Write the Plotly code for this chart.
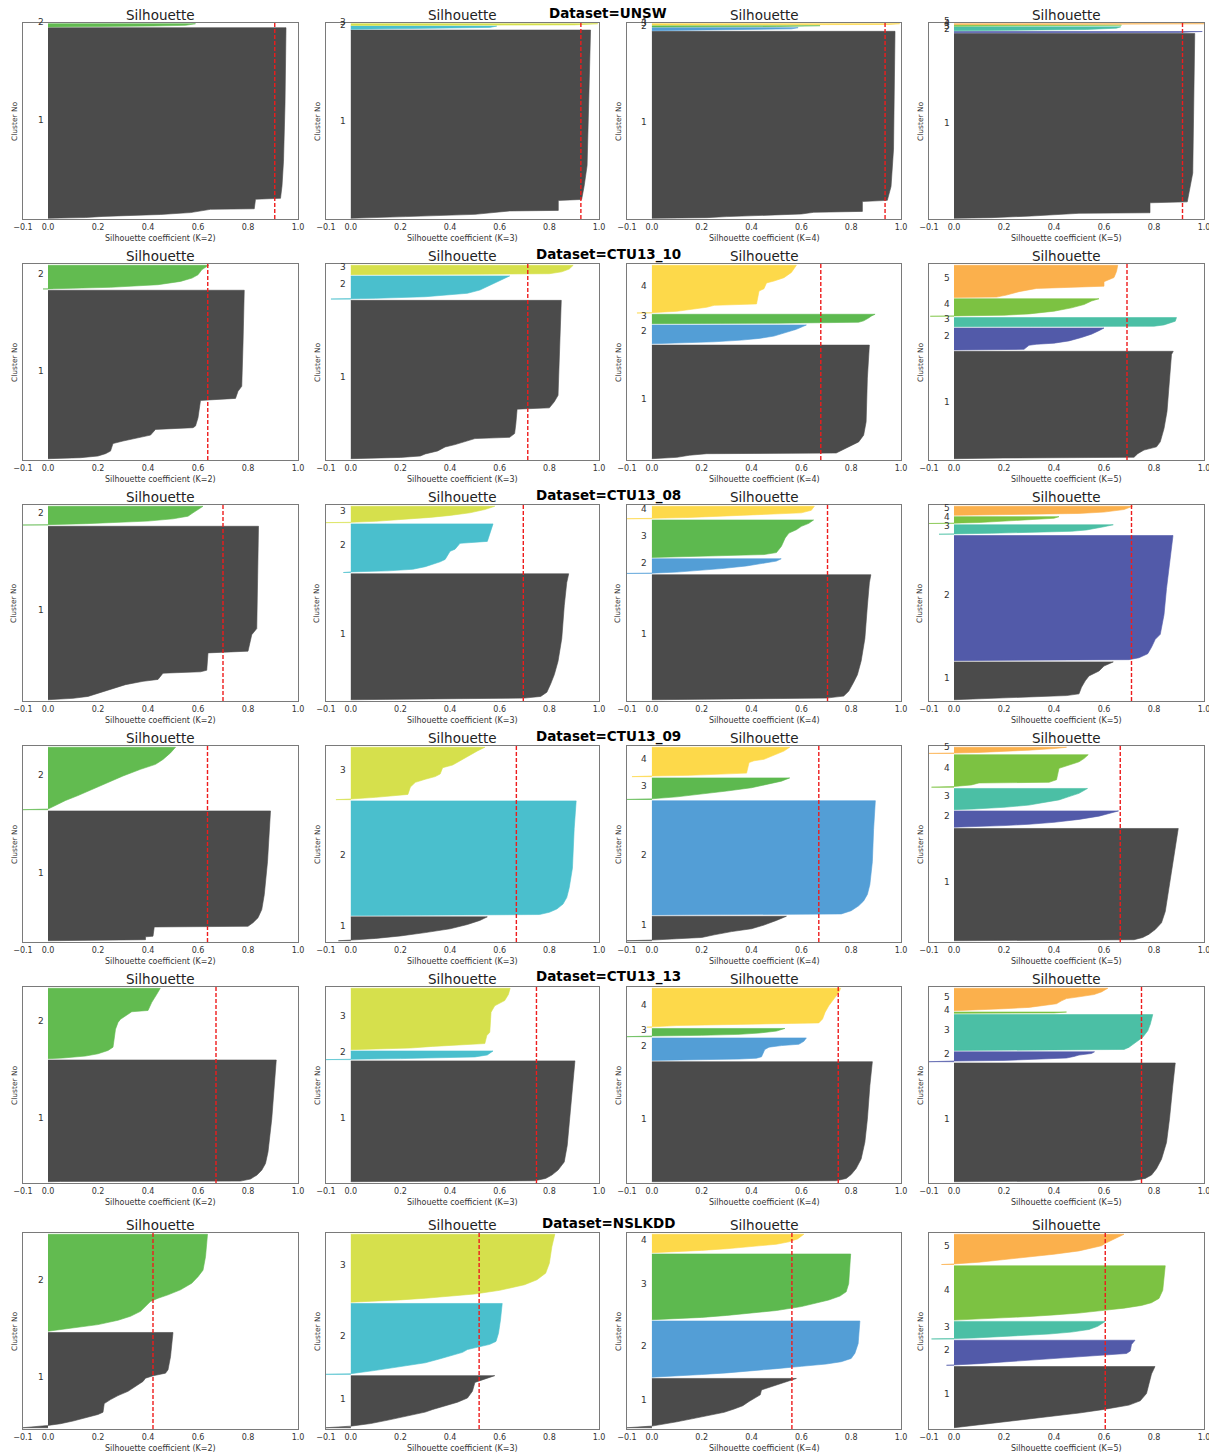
import plotly.graph_objects as go

W, H = 1209, 1453

DATASETS = ["UNSW", "CTU13_10", "CTU13_08", "CTU13_09", "CTU13_13", "NSLKDD"]
K_VALUES = [2, 3, 4, 5]
X_TICKS = [-0.1, 0.0, 0.2, 0.4, 0.6, 0.8, 1.0]
X_TICK_TEXT = ["−0.1", "0.0", "0.2", "0.4", "0.6", "0.8", "1.0"]

CLUSTER_COLORS = {
    2: ["#4b4b4b", "#62bb50"],
    3: ["#4b4b4b", "#4abfcd", "#d6e04c"],
    4: ["#4b4b4b", "#539ed6", "#5db94f", "#fdd94a"],
    5: ["#4b4b4b", "#525aa9", "#4bbfa5", "#7cc242", "#fbb04c"],
}

# gap (in sample units) between clusters, per dataset
GAPS = [0.7, 1.3, 1.3, 1.3, 1.3, 1.3]

# ---------------- average silhouette scores (K=2..5) ----------------
UNSW_AVG = [0.907, 0.927, 0.936, 0.914]
CTU13_10_AVG = [0.639, 0.713, 0.678, 0.692]
CTU13_08_AVG = [0.700, 0.695, 0.705, 0.710]
CTU13_09_AVG = [0.638, 0.667, 0.670, 0.665]
CTU13_13_AVG = [0.672, 0.748, 0.748, 0.750]
NSLKDD_AVG = [0.420, 0.517, 0.562, 0.605]

# ---------------- cluster sizes (clusters 1..K) ----------------
UNSW_SIZES = [[191.3, 3.3], [189.3, 3.3, 1.7], [188.3, 3.0, 1.3, 1.3], [186.7, 1.3, 4.0, 1.0, 0.8]]
CTU13_10_SIZES = [[168.7, 23.7], [157.7, 23.0, 9.3], [112.7, 18.7, 9.3, 47.3], [106.0, 21.7, 9.0, 17.3, 31.7]]
CTU13_08_SIZES = [[176.0, 19.0], [128.7, 49.7, 16.7], [127.7, 15.0, 38.3, 12.7], [38.7, 128.0, 9.7, 7.0, 9.3]]
CTU13_09_SIZES = [[131.7, 63.3], [24.3, 116.7, 53.3], [25.0, 116.7, 22.0, 30.0], [115.0, 16.7, 21.7, 33.3, 6.3]]
CTU13_13_SIZES = [[122.7, 71.0], [122.0, 8.7, 62.0], [121.3, 22.7, 8.3, 39.3], [120.0, 10.0, 36.3, 1.3, 22.7]]
NSLKDD_SIZES = [[96.0, 97.7], [52.7, 71.7, 68.7], [50.0, 57.0, 66.7, 18.7], [62.7, 25.7, 18.0, 55.7, 31.0]]

# ---------------- sorted silhouette profiles: (rank fraction, value) ----------------
UNSW_PROFILES = [
    [
        [(0, 0), (0.004, 0.15), (0.01, 0.22), (0.02, 0.45), (0.03, 0.57), (0.04, 0.62), (0.047, 0.65), (0.05, 0.825), (0.1, 0.83), (0.105, 0.93), (0.17, 0.936), (0.3, 0.942), (0.6, 0.948), (1, 0.952)],
        [(0, 0), (0.1, 0.3), (0.3, 0.42), (0.5, 0.55), (0.8, 0.58), (1, 0.59)],
    ],
    [
        [(0, 0), (0.0035, 0.15), (0.009, 0.22), (0.021, 0.5), (0.03, 0.58), (0.039, 0.64), (0.042, 0.836), (0.095, 0.836), (0.1, 0.93), (0.17, 0.94), (0.28, 0.952), (0.63, 0.96), (1, 0.966)],
        [(0, 0), (0.1, 0.1), (0.3, 0.42), (0.6, 0.56), (1, 0.588)],
        [(0, 0.2), (0.3, 0.9), (1, 0.995)],
    ],
    [
        [(0, 0), (0.0035, 0.22), (0.009, 0.3), (0.016, 0.5), (0.023, 0.6), (0.032, 0.65), (0.037, 0.845), (0.09, 0.845), (0.096, 0.945), (0.17, 0.96), (0.37, 0.97), (1, 0.976)],
        [(0, 0), (0.1, 0.1), (0.3, 0.42), (0.6, 0.56), (1, 0.587)],
        [(0, 0), (0.3, 0.5), (1, 0.675)],
        [(0, 0.3), (0.4, 0.95), (1, 0.995)],
    ],
    [
        [(0, 0), (0.0036, 0.15), (0.0125, 0.31), (0.021, 0.42), (0.027, 0.5), (0.03, 0.784), (0.084, 0.784), (0.089, 0.933), (0.14, 0.94), (0.245, 0.955), (1, 0.963)],
        [(0, 0), (0.3, 0.9), (1, 0.993)],
        [(0, 0), (0.08, 0.1), (0.17, 0.35), (0.33, 0.53), (0.67, 0.65), (1, 0.667)],
        [(0, 0), (0.4, 0.5), (1, 0.67)],
        [(0, 0.3), (1, 1.0)],
    ],
]

CTU13_10_PROFILES = [
    [
        [(0, 0), (0.006, 0.13), (0.016, 0.2), (0.03, 0.23), (0.045, 0.25), (0.09, 0.26), (0.105, 0.3), (0.128, 0.38), (0.14, 0.41), (0.174, 0.43), (0.184, 0.58), (0.194, 0.59), (0.243, 0.6), (0.346, 0.61), (0.358, 0.75), (0.4, 0.76), (0.43, 0.775), (0.68, 0.78), (1, 0.785)],
        [(0, -0.02), (0.03, 0.1), (0.07, 0.25), (0.18, 0.44), (0.32, 0.53), (0.46, 0.576), (0.6, 0.6), (0.82, 0.616), (1, 0.643)],
    ],
    [
        [(0, 0), (0.004, 0.1), (0.008, 0.2), (0.017, 0.28), (0.03, 0.3), (0.049, 0.35), (0.074, 0.38), (0.089, 0.42), (0.11, 0.47), (0.127, 0.5), (0.135, 0.64), (0.159, 0.66), (0.222, 0.665), (0.313, 0.67), (0.321, 0.8), (0.36, 0.82), (0.4, 0.835), (0.72, 0.842), (1, 0.848)],
        [(0, -0.08), (0.03, 0.1), (0.1, 0.3), (0.17, 0.4), (0.25, 0.47), (0.39, 0.52), (0.54, 0.55), (0.68, 0.58), (0.83, 0.61), (1, 0.64)],
        [(0, 0.1), (0.05, 0.5), (0.1, 0.8), (0.3, 0.85), (0.6, 0.88), (1, 0.896)],
    ],
    [
        [(0, 0), (0.012, 0.1), (0.03, 0.15), (0.044, 0.22), (0.05, 0.74), (0.083, 0.77), (0.118, 0.8), (0.148, 0.83), (0.207, 0.85), (0.325, 0.86), (0.71, 0.865), (1, 0.873)],
        [(0, 0), (0.036, 0.12), (0.107, 0.25), (0.196, 0.36), (0.286, 0.43), (0.41, 0.49), (0.59, 0.54), (0.77, 0.58), (1, 0.62)],
        [(0, 0.05), (0.05, 0.5), (0.15, 0.83), (0.3, 0.85), (0.6, 0.87), (0.8, 0.88), (1, 0.896)],
        [(0, -0.06), (0.007, 0), (0.035, 0.1), (0.077, 0.17), (0.12, 0.22), (0.16, 0.25), (0.19, 0.42), (0.46, 0.43), (0.51, 0.45), (0.63, 0.46), (0.67, 0.49), (0.74, 0.53), (0.85, 0.56), (1, 0.58)],
    ],
    [
        [(0, 0), (0.006, 0.2), (0.013, 0.72), (0.047, 0.735), (0.08, 0.76), (0.11, 0.81), (0.157, 0.825), (0.28, 0.84), (0.44, 0.852), (0.755, 0.862), (0.97, 0.87), (1, 0.877)],
        [(0, 0), (0.03, 0.28), (0.215, 0.3), (0.26, 0.33), (0.31, 0.4), (0.415, 0.46), (0.57, 0.51), (0.72, 0.55), (0.88, 0.58), (1, 0.6)],
        [(0, 0.05), (0.05, 0.8), (0.2, 0.84), (0.45, 0.87), (0.6, 0.885), (1, 0.89)],
        [(0, -0.095), (0.02, 0), (0.06, 0.2), (0.135, 0.3), (0.29, 0.4), (0.48, 0.47), (0.67, 0.52), (0.87, 0.55), (1, 0.58)],
        [(0, 0), (0.01, 0.17), (0.074, 0.21), (0.18, 0.26), (0.28, 0.33), (0.31, 0.43), (0.35, 0.6), (0.49, 0.6), (0.56, 0.62), (0.62, 0.64), (0.81, 0.65), (1, 0.655)],
    ],
]

CTU13_08_PROFILES = [
    [
        [(0, 0), (0.008, 0.1), (0.019, 0.16), (0.038, 0.2), (0.0625, 0.25), (0.087, 0.31), (0.106, 0.38), (0.117, 0.44), (0.153, 0.46), (0.161, 0.61), (0.17, 0.635), (0.27, 0.64), (0.28, 0.8), (0.375, 0.815), (0.41, 0.835), (1, 0.842)],
        [(0, -0.1), (0.02, 0), (0.07, 0.15), (0.14, 0.3), (0.21, 0.4), (0.33, 0.5), (0.47, 0.56), (0.65, 0.58), (0.82, 0.6), (1, 0.62)],
    ],
    [
        [(0, 0), (0.005, 0.25), (0.013, 0.7), (0.026, 0.765), (0.06, 0.79), (0.124, 0.805), (0.2, 0.82), (0.306, 0.835), (0.487, 0.85), (0.746, 0.86), (0.93, 0.87), (1, 0.878)],
        [(0, -0.03), (0.013, 0), (0.034, 0.15), (0.067, 0.25), (0.12, 0.3), (0.168, 0.33), (0.22, 0.36), (0.27, 0.38), (0.436, 0.4), (0.48, 0.42), (0.6, 0.44), (0.64, 0.55), (0.8, 0.56), (1, 0.573)],
        [(0, -0.1), (0.02, 0), (0.08, 0.1), (0.2, 0.22), (0.32, 0.32), (0.44, 0.4), (0.6, 0.48), (0.8, 0.54), (1, 0.58)],
    ],
    [
        [(0, 0), (0.005, 0.25), (0.013, 0.7), (0.029, 0.77), (0.068, 0.79), (0.14, 0.81), (0.2, 0.825), (0.31, 0.84), (0.49, 0.855), (0.75, 0.865), (0.935, 0.873), (1, 0.879)],
        [(0, -0.1), (0.02, 0), (0.09, 0.1), (0.2, 0.2), (0.33, 0.28), (0.51, 0.38), (0.69, 0.45), (0.84, 0.5), (1, 0.519)],
        [(0, 0), (0.017, 0.1), (0.043, 0.3), (0.078, 0.45), (0.13, 0.5), (0.3, 0.52), (0.52, 0.535), (0.65, 0.55), (0.74, 0.58), (0.83, 0.6), (0.91, 0.63), (1, 0.649)],
        [(0, -0.1), (0.03, 0), (0.1, 0.15), (0.21, 0.3), (0.29, 0.42), (0.37, 0.52), (0.47, 0.6), (0.68, 0.64), (1, 0.652)],
    ],
    [
        [(0, 0), (0.026, 0.1), (0.06, 0.22), (0.086, 0.32), (0.11, 0.45), (0.155, 0.5), (0.33, 0.51), (0.5, 0.525), (0.63, 0.54), (0.76, 0.58), (0.89, 0.6), (1, 0.637)],
        [(0, 0), (0.003, 0.3), (0.008, 0.7), (0.023, 0.74), (0.055, 0.775), (0.107, 0.79), (0.17, 0.805), (0.21, 0.825), (0.367, 0.84), (0.576, 0.85), (0.784, 0.862), (0.94, 0.87), (1, 0.876)],
        [(0, -0.06), (0.035, 0), (0.1, 0.15), (0.2, 0.35), (0.31, 0.47), (0.45, 0.53), (0.62, 0.57), (0.79, 0.6), (1, 0.637)],
        [(0, -0.1), (0.05, 0), (0.14, 0.1), (0.33, 0.2), (0.52, 0.3), (0.76, 0.4), (1, 0.42)],
        [(0, 0), (0.04, 0.1), (0.11, 0.3), (0.21, 0.5), (0.36, 0.6), (0.64, 0.68), (1, 0.714)],
    ],
]

CTU13_09_PROFILES = [
    [
        [(0, 0), (0.003, 0.15), (0.008, 0.39), (0.03, 0.39), (0.035, 0.42), (0.106, 0.425), (0.111, 0.8), (0.139, 0.82), (0.177, 0.84), (0.24, 0.855), (0.354, 0.865), (0.608, 0.878), (0.86, 0.885), (1, 0.89)],
        [(0, -0.1), (0.01, 0), (0.058, 0.025), (0.147, 0.07), (0.226, 0.12), (0.33, 0.18), (0.437, 0.24), (0.54, 0.3), (0.647, 0.37), (0.726, 0.43), (0.805, 0.46), (0.91, 0.49), (1, 0.51)],
    ],
    [
        [(0, -0.05), (0.027, 0), (0.096, 0.1), (0.2, 0.2), (0.34, 0.3), (0.5, 0.4), (0.68, 0.47), (0.85, 0.52), (1, 0.55)],
        [(0, 0), (0.003, 0.5), (0.009, 0.76), (0.029, 0.8), (0.057, 0.83), (0.1, 0.855), (0.157, 0.87), (0.243, 0.88), (0.414, 0.893), (0.757, 0.9), (1, 0.908)],
        [(0, -0.06), (0.0125, 0), (0.044, 0.1), (0.08, 0.17), (0.1, 0.23), (0.24, 0.24), (0.33, 0.26), (0.39, 0.3), (0.44, 0.34), (0.49, 0.36), (0.61, 0.37), (0.66, 0.41), (0.74, 0.44), (0.83, 0.47), (0.93, 0.51), (1, 0.54)],
    ],
    [
        [(0, -0.1), (0.027, 0), (0.08, 0.1), (0.133, 0.2), (0.24, 0.25), (0.373, 0.32), (0.49, 0.4), (0.64, 0.45), (0.83, 0.5), (1, 0.54)],
        [(0, 0), (0.003, 0.5), (0.009, 0.76), (0.037, 0.8), (0.08, 0.83), (0.123, 0.85), (0.18, 0.865), (0.266, 0.875), (0.466, 0.885), (0.75, 0.89), (1, 0.897)],
        [(0, -0.1), (0.03, 0), (0.12, 0.1), (0.24, 0.2), (0.39, 0.3), (0.545, 0.4), (0.7, 0.46), (0.85, 0.52), (1, 0.553)],
        [(0, -0.08), (0.022, 0), (0.044, 0.15), (0.089, 0.3), (0.12, 0.38), (0.48, 0.39), (0.54, 0.41), (0.59, 0.45), (0.7, 0.48), (0.87, 0.53), (1, 0.553)],
    ],
    [
        [(0, 0), (0.003, 0.5), (0.009, 0.72), (0.029, 0.755), (0.058, 0.78), (0.1, 0.805), (0.16, 0.83), (0.26, 0.845), (0.55, 0.865), (0.84, 0.885), (1, 0.897)],
        [(0, 0), (0.04, 0.1), (0.1, 0.2), (0.18, 0.3), (0.3, 0.4), (0.48, 0.5), (0.68, 0.58), (0.84, 0.62), (1, 0.658)],
        [(0, 0), (0.03, 0.08), (0.11, 0.2), (0.215, 0.3), (0.34, 0.36), (0.46, 0.42), (0.615, 0.46), (0.77, 0.5), (1, 0.534)],
        [(0, -0.09), (0.02, 0), (0.07, 0.07), (0.13, 0.1), (0.15, 0.38), (0.23, 0.41), (0.58, 0.42), (0.65, 0.45), (0.78, 0.5), (0.88, 0.52), (1, 0.537)],
        [(0, -0.1), (0.05, 0), (0.16, 0.1), (0.32, 0.2), (0.53, 0.3), (0.79, 0.4), (1, 0.45)],
    ],
]

CTU13_13_PROFILES = [
    [
        [(0, 0), (0.002, 0.05), (0.005, 0.77), (0.022, 0.81), (0.054, 0.835), (0.095, 0.855), (0.15, 0.87), (0.245, 0.88), (0.516, 0.895), (0.79, 0.905), (1, 0.913)],
        [(0, 0), (0.01, 0.06), (0.038, 0.15), (0.07, 0.2), (0.117, 0.24), (0.164, 0.26), (0.42, 0.27), (0.516, 0.28), (0.56, 0.29), (0.61, 0.31), (0.667, 0.335), (0.685, 0.4), (0.8, 0.415), (0.915, 0.435), (1, 0.449)],
    ],
    [
        [(0, 0), (0.003, 0.4), (0.008, 0.74), (0.027, 0.785), (0.055, 0.81), (0.096, 0.835), (0.164, 0.86), (0.3, 0.872), (0.52, 0.882), (0.79, 0.893), (1, 0.903)],
        [(0, -0.1), (0.04, 0), (0.115, 0.2), (0.19, 0.4), (0.31, 0.5), (0.54, 0.55), (0.77, 0.56), (1, 0.573)],
        [(0, 0), (0.011, 0.14), (0.027, 0.24), (0.054, 0.33), (0.08, 0.45), (0.1, 0.54), (0.23, 0.548), (0.285, 0.56), (0.61, 0.565), (0.715, 0.58), (0.8, 0.62), (0.9, 0.635), (1, 0.642)],
    ],
    [
        [(0, 0), (0.003, 0.4), (0.008, 0.74), (0.027, 0.78), (0.06, 0.8), (0.11, 0.82), (0.19, 0.84), (0.33, 0.855), (0.52, 0.865), (0.8, 0.875), (1, 0.885)],
        [(0, 0), (0.03, 0.2), (0.06, 0.35), (0.1, 0.42), (0.16, 0.44), (0.485, 0.453), (0.59, 0.47), (0.66, 0.52), (0.72, 0.59), (0.85, 0.61), (1, 0.62)],
        [(0, -0.1), (0.08, 0), (0.16, 0.2), (0.28, 0.35), (0.44, 0.43), (0.68, 0.5), (1, 0.534)],
        [(0, -0.02), (0.008, 0), (0.042, 0.1), (0.068, 0.3), (0.085, 0.55), (0.11, 0.67), (0.21, 0.685), (0.38, 0.695), (0.55, 0.71), (0.72, 0.73), (0.89, 0.75), (1, 0.758)],
    ],
    [
        [(0, 0), (0.003, 0.4), (0.008, 0.71), (0.028, 0.765), (0.056, 0.79), (0.11, 0.81), (0.19, 0.83), (0.33, 0.85), (0.53, 0.862), (0.805, 0.875), (1, 0.885)],
        [(0, -0.1), (0.067, 0), (0.13, 0.2), (0.23, 0.35), (0.37, 0.45), (0.53, 0.48), (0.67, 0.5), (0.83, 0.55), (1, 0.562)],
        [(0, 0), (0.009, 0.3), (0.03, 0.68), (0.09, 0.7), (0.23, 0.73), (0.37, 0.755), (0.55, 0.775), (0.73, 0.785), (1, 0.795)],
        [(0, 0), (0.3, 0.4), (1, 0.45)],
        [(0, 0), (0.03, 0.1), (0.09, 0.2), (0.15, 0.3), (0.22, 0.36), (0.31, 0.41), (0.44, 0.43), (0.54, 0.45), (0.62, 0.5), (0.72, 0.56), (0.84, 0.59), (1, 0.615)],
    ],
]

NSLKDD_PROFILES = [
    [
        [(0, -0.1), (0.024, 0), (0.042, 0.05), (0.07, 0.1), (0.104, 0.15), (0.139, 0.2), (0.163, 0.22), (0.253, 0.225), (0.295, 0.25), (0.337, 0.28), (0.382, 0.32), (0.434, 0.35), (0.486, 0.38), (0.52, 0.39), (0.545, 0.42), (0.573, 0.47), (0.608, 0.48), (0.746, 0.49), (1, 0.5)],
        [(0, 0), (0.017, 0.05), (0.034, 0.1), (0.068, 0.2), (0.113, 0.28), (0.154, 0.33), (0.205, 0.37), (0.256, 0.39), (0.307, 0.41), (0.34, 0.44), (0.375, 0.48), (0.427, 0.53), (0.495, 0.575), (0.563, 0.6), (0.63, 0.62), (0.768, 0.63), (1, 0.638)],
    ],
    [
        [(0, -0.1), (0.03, 0), (0.08, 0.08), (0.146, 0.15), (0.22, 0.22), (0.3, 0.3), (0.35, 0.33), (0.41, 0.37), (0.49, 0.43), (0.57, 0.47), (0.7, 0.49), (0.87, 0.5), (0.92, 0.53), (1, 0.58)],
        [(0, -0.1), (0.009, 0), (0.056, 0.1), (0.107, 0.2), (0.163, 0.3), (0.22, 0.36), (0.265, 0.41), (0.31, 0.45), (0.35, 0.47), (0.386, 0.51), (0.423, 0.56), (0.465, 0.585), (0.58, 0.595), (0.767, 0.603), (1, 0.61)],
        [(0, 0), (0.015, 0.1), (0.034, 0.2), (0.058, 0.3), (0.087, 0.4), (0.121, 0.5), (0.175, 0.6), (0.257, 0.7), (0.33, 0.75), (0.427, 0.785), (0.573, 0.8), (0.816, 0.81), (1, 0.822)],
    ],
    [
        [(0, -0.1), (0.033, 0), (0.073, 0.05), (0.12, 0.1), (0.18, 0.16), (0.247, 0.23), (0.313, 0.29), (0.38, 0.33), (0.447, 0.365), (0.533, 0.39), (0.62, 0.42), (0.667, 0.435), (0.767, 0.44), (0.82, 0.47), (0.887, 0.51), (0.947, 0.55), (1, 0.58)],
        [(0, 0), (0.018, 0.1), (0.047, 0.2), (0.076, 0.3), (0.11, 0.4), (0.152, 0.5), (0.193, 0.6), (0.234, 0.7), (0.275, 0.76), (0.333, 0.8), (0.427, 0.815), (0.6, 0.828), (1, 0.835)],
        [(0, 0), (0.015, 0.1), (0.035, 0.2), (0.065, 0.3), (0.1, 0.4), (0.14, 0.5), (0.2, 0.6), (0.25, 0.66), (0.3, 0.71), (0.36, 0.755), (0.425, 0.78), (0.55, 0.79), (1, 0.798)],
        [(0, 0), (0.054, 0.1), (0.125, 0.2), (0.214, 0.3), (0.32, 0.4), (0.46, 0.5), (0.59, 0.55), (0.75, 0.585), (1, 0.61)],
    ],
    [
        [(0, 0), (0.048, 0.1), (0.09, 0.2), (0.133, 0.3), (0.186, 0.4), (0.24, 0.5), (0.3, 0.6), (0.37, 0.7), (0.44, 0.745), (0.56, 0.77), (0.72, 0.78), (0.88, 0.79), (1, 0.804)],
        [(0, -0.03), (0.013, 0), (0.065, 0.1), (0.13, 0.2), (0.195, 0.3), (0.26, 0.4), (0.34, 0.5), (0.4, 0.6), (0.47, 0.69), (0.57, 0.705), (0.83, 0.71), (1, 0.724)],
        [(0, -0.09), (0.02, 0), (0.055, 0.08), (0.11, 0.17), (0.185, 0.28), (0.28, 0.38), (0.39, 0.47), (0.54, 0.54), (0.72, 0.575), (1, 0.605)],
        [(0, 0), (0.018, 0.1), (0.042, 0.2), (0.066, 0.3), (0.096, 0.4), (0.13, 0.5), (0.18, 0.6), (0.22, 0.68), (0.27, 0.75), (0.32, 0.79), (0.4, 0.82), (0.55, 0.835), (1, 0.845)],
        [(0, -0.05), (0.02, 0), (0.075, 0.1), (0.16, 0.2), (0.25, 0.3), (0.34, 0.4), (0.45, 0.5), (0.54, 0.55), (0.62, 0.59), (0.72, 0.61), (0.83, 0.64), (1, 0.68)],
    ],
]

ALL_SIZES = [UNSW_SIZES, CTU13_10_SIZES, CTU13_08_SIZES, CTU13_09_SIZES, CTU13_13_SIZES, NSLKDD_SIZES]
ALL_PROFILES = [UNSW_PROFILES, CTU13_10_PROFILES, CTU13_08_PROFILES, CTU13_09_PROFILES, CTU13_13_PROFILES, NSLKDD_PROFILES]
ALL_AVG = [UNSW_AVG, CTU13_10_AVG, CTU13_08_AVG, CTU13_09_AVG, CTU13_13_AVG, NSLKDD_AVG]

# ---------------- layout (pixels) ----------------
COL_LEFT = [23, 326, 627, 929]
COL_RIGHT = [298, 599, 901, 1204]
ROW_TOP = [23, 264, 505, 746, 987, 1233]
AX_H = 196
FONT = "DejaVu Sans"


def fx(px):
    return px / W


def fy(py):
    return 1 - py / H


fig = go.Figure()
layout = dict(
    width=W, height=H, autosize=False,
    margin=dict(l=0, r=0, t=0, b=0, pad=0, autoexpand=False),
    paper_bgcolor="white", plot_bgcolor="white",
    showlegend=False,
    font=dict(family=FONT, color="#222"),
)
annotations = []
shapes = []

for r, ds in enumerate(DATASETS):
    top = ROW_TOP[r]
    bottom = top + AX_H
    gap = GAPS[r]
    for c, k in enumerate(K_VALUES):
        n = r * 4 + c + 1
        xa = "x" if n == 1 else f"x{n}"
        ya = "y" if n == 1 else f"y{n}"
        sizes = ALL_SIZES[r][c]
        profiles = ALL_PROFILES[r][c]
        colors = CLUSTER_COLORS[k]
        y_lower = gap
        for i, (size, prof) in enumerate(zip(sizes, profiles)):
            qs = [p[0] for p in prof]
            vals = [p[1] for p in prof]
            ys = [y_lower + q * size for q in qs]
            xs = [0] + vals + [0]
            ys = [y_lower] + ys + [y_lower + size]
            fig.add_trace(go.Scatter(
                x=xs, y=ys, xaxis=xa, yaxis=ya, mode="lines",
                fill="toself", fillcolor=colors[i],
                line=dict(color=colors[i], width=0.6),
                hoverinfo="skip", showlegend=False,
            ))
            annotations.append(dict(
                x=-0.05, y=y_lower + size / 2, xref=xa, yref=ya,
                text=str(i + 1), showarrow=False, xanchor="left", yanchor="middle",
                yshift=3, font=dict(size=9, color="#333", family=FONT),
            ))
            y_lower += size + gap
        ymax = y_lower

        xkey = "xaxis" if n == 1 else f"xaxis{n}"
        ykey = "yaxis" if n == 1 else f"yaxis{n}"
        layout[xkey] = dict(
            domain=[fx(COL_LEFT[c]), fx(COL_RIGHT[c])], anchor=ya,
            range=[-0.1, 1.0], tickvals=X_TICKS, ticktext=X_TICK_TEXT,
            showline=True, mirror=True, linecolor="#7a7a7a", linewidth=1,
            ticks="", ticklabeloverflow="allow",
            tickfont=dict(size=8, color="#333", family=FONT),
            showgrid=False, zeroline=False, fixedrange=True, automargin=False,
        )
        layout[ykey] = dict(
            domain=[fy(bottom), fy(top)], anchor=xa,
            range=[0, ymax], showticklabels=False, ticks="",
            showline=True, mirror=True, linecolor="#7a7a7a", linewidth=1,
            showgrid=False, zeroline=False, fixedrange=True, automargin=False,
        )

        # average silhouette line
        shapes.append(dict(
            type="line", xref=xa, yref=f"{ya} domain",
            x0=ALL_AVG[r][c], x1=ALL_AVG[r][c], y0=0, y1=1,
            line=dict(color="#ee1c1c", width=1.4, dash="4px,2px"),
        ))

        xc = (COL_LEFT[c] + COL_RIGHT[c]) / 2
        annotations.append(dict(
            x=fx(xc), y=fy(top - 8), xref="paper", yref="paper",
            text="Silhouette", showarrow=False, xanchor="center", yanchor="middle",
            font=dict(size=13.5, color="#222", family=FONT),
        ))
        annotations.append(dict(
            x=fx(xc), y=fy(bottom + 19), xref="paper", yref="paper",
            text=f"Silhouette coefficient (K={k})", showarrow=False,
            xanchor="center", yanchor="middle",
            font=dict(size=8, color="#333", family=FONT),
        ))
        annotations.append(dict(
            x=fx(COL_LEFT[c] - 9), y=fy((top + bottom) / 2), xref="paper", yref="paper",
            text="Cluster No", showarrow=False, textangle=-90,
            xanchor="center", yanchor="middle",
            font=dict(size=7.5, color="#333", family=FONT),
        ))

    annotations.append(dict(
        x=fx(608), y=fy(top - 10), xref="paper", yref="paper",
        text=f"<b>Dataset={ds}</b>", showarrow=False, xanchor="center", yanchor="middle",
        font=dict(size=13.5, color="#000", family=FONT),
    ))

layout["annotations"] = annotations
layout["shapes"] = shapes
fig.update_layout(**layout)
fig.write_html(
    "out.html",
    config={"displayModeBar": False},
    post_script="document.body.style.margin='0';document.body.style.overflow='hidden';",
)
